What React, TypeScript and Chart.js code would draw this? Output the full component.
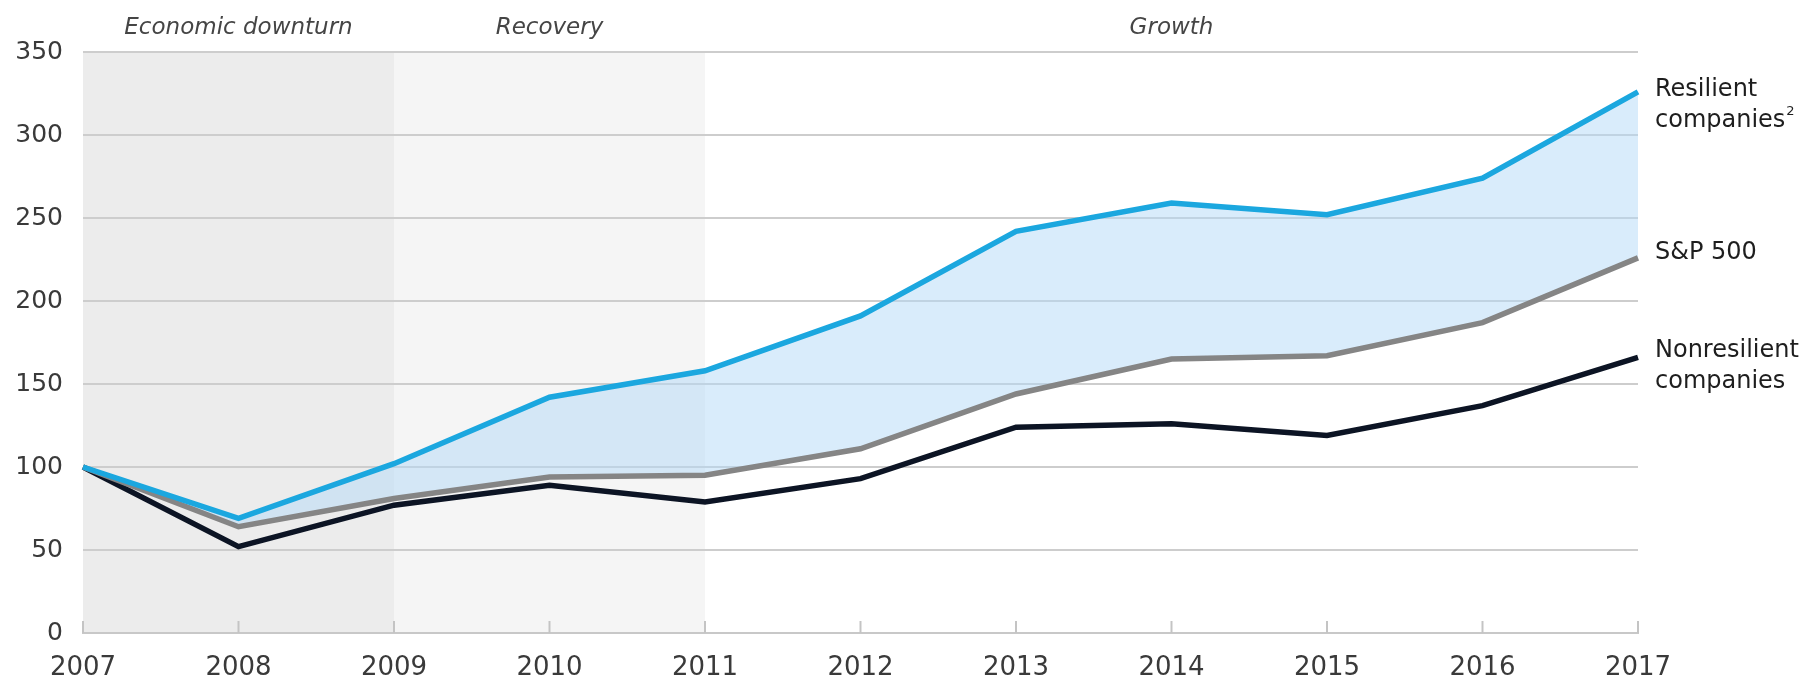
import React, { useEffect, useRef } from "react";
import { Chart, registerables } from "chart.js";

Chart.register(...registerables);

const years = ["2007", "2008", "2009", "2010", "2011", "2012", "2013", "2014", "2015", "2016", "2017"];
const resilient = [100, 69, 102, 142, 158, 191, 242, 259, 252, 274, 326];
const sp500 = [100, 64, 81, 94, 95, 111, 144, 165, 167, 187, 226];
const nonresilient = [100, 52, 77, 89, 79, 93, 124, 126, 119, 137, 166];
const yTicks = [0, 50, 100, 150, 200, 250, 300, 350];
const phaseNames = ["Economic downturn", "Recovery", "Growth"];
const phaseStart = [0, 2, 4];
const phaseEnd = [2, 4, 10];
const seriesNames = ["Resilient companies", "S&P 500", "Nonresilient companies"];
const endLabels = [["Resilient", "companies"], ["S&P 500"], ["Nonresilient", "companies"]];
const endNote = ["2", "", ""];

const FONT = "'DejaVu Sans', sans-serif";

const phasePlugin = {
  id: "phases",
  beforeDraw(chart: any) {
    const { ctx, chartArea, scales } = chart;
    const x = scales.x;
    const fills = ["#ececec", "#f5f5f5", "rgba(0,0,0,0)"];
    ctx.save();
    phaseNames.forEach((name, i) => {
      const x0 = x.getPixelForValue(phaseStart[i]);
      const x1 = x.getPixelForValue(phaseEnd[i]);
      ctx.fillStyle = fills[i];
      ctx.fillRect(x0, chartArea.top, x1 - x0, chartArea.bottom - chartArea.top);
      ctx.fillStyle = "#454545";
      ctx.font = "oblique 23px " + FONT;
      ctx.textAlign = "center";
      ctx.textBaseline = "alphabetic";
      ctx.fillText(name, (x0 + x1) / 2, 34);
    });
    ctx.restore();
  },
};

const tickPlugin = {
  id: "innerTicks",
  afterDraw(chart: any) {
    const { ctx, chartArea, scales } = chart;
    const x = scales.x;
    ctx.save();
    ctx.strokeStyle = "#c4c4c4";
    ctx.lineWidth = 2;
    years.forEach((_, i) => {
      const px = x.getPixelForValue(i);
      ctx.beginPath();
      ctx.moveTo(px, chartArea.bottom);
      ctx.lineTo(px, chartArea.bottom - 12);
      ctx.stroke();
    });
    ctx.restore();
  },
};

const labelPlugin = {
  id: "endLabels",
  afterDatasetsDraw(chart: any) {
    const { ctx, chartArea } = chart;
    const offsets = [-2, -5, -7];
    ctx.save();
    ctx.fillStyle = "#1e1e1e";
    ctx.textAlign = "left";
    ctx.textBaseline = "middle";
    endLabels.forEach((lines, i) => {
      const meta = chart.getDatasetMeta(i);
      const pt = meta.data[meta.data.length - 1];
      const lx = chartArea.right + 17;
      lines.forEach((t, j) => {
        const ly = pt.y + offsets[i] + j * 31;
        ctx.font = "24px " + FONT;
        ctx.fillText(t, lx, ly);
        if (j === lines.length - 1 && endNote[i]) {
          const w = ctx.measureText(t).width;
          ctx.font = "13px " + FONT;
          ctx.fillText(endNote[i], lx + w + 1, ly - 9);
        }
      });
    });
    ctx.restore();
  },
};

export default function App() {
  const ref = useRef<HTMLCanvasElement | null>(null);
  useEffect(() => {
    document.body.style.margin = "0";
    const chart = new Chart(ref.current as HTMLCanvasElement, {
      type: "line",
      data: {
        labels: years,
        datasets: [
          {
            label: seriesNames[0],
            data: resilient,
            borderColor: "#1ba7df",
            borderWidth: 5.5,
            pointRadius: 0,
            tension: 0,
            fill: { target: 1 },
            backgroundColor: "rgba(180,218,247,0.5)",
          },
          {
            label: seriesNames[1],
            data: sp500,
            borderColor: "#858585",
            borderWidth: 5.5,
            pointRadius: 0,
            tension: 0,
            fill: false,
          },
          {
            label: seriesNames[2],
            data: nonresilient,
            borderColor: "#0c1424",
            borderWidth: 5.5,
            pointRadius: 0,
            tension: 0,
            fill: false,
          },
        ],
      },
      options: {
        animation: false,
        responsive: false,
        devicePixelRatio: 1,
        layout: { padding: { left: 0, right: 171, top: 52, bottom: 0 } },
        plugins: {
          legend: { display: false },
          tooltip: { enabled: false },
          filler: { drawTime: "beforeDatasetsDraw" },
        },
        scales: {
          x: {
            offset: false,
            grid: { display: false, drawTicks: false },
            border: { display: true, color: "#c8c8c8", width: 2 },
            ticks: {
              color: "#3a3a3a",
              font: { family: FONT, size: 26 },
              padding: 20,
              maxRotation: 0,
              autoSkip: false,
            },
            afterFit: (s: any) => {
              s.height = 48;
            },
          },
          y: {
            min: 0,
            max: 350,
            afterBuildTicks: (s: any) => {
              s.ticks = yTicks.map((v) => ({ value: v }));
            },
            grid: { color: "#cdcdcd", lineWidth: 2, drawTicks: false },
            border: { display: false },
            ticks: {
              color: "#3a3a3a",
              font: { family: FONT, size: 25 },
              padding: 20,
            },
            afterFit: (s: any) => {
              s.width = 83;
            },
          },
        },
      },
      plugins: [phasePlugin, tickPlugin, labelPlugin],
    });
    return () => chart.destroy();
  }, []);
  return (
    <div style={{ position: "absolute", left: 0, top: 0, width: 1809, height: 681 }}>
      <canvas ref={ref} width={1809} height={681} style={{ width: 1809, height: 681 }} />
    </div>
  );
}
